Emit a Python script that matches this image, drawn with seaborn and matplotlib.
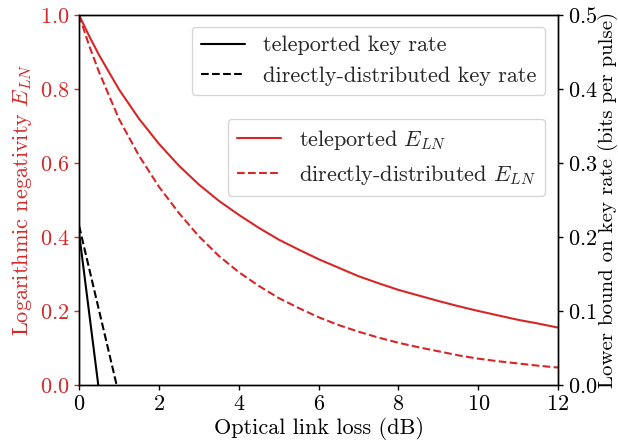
import matplotlib
matplotlib.use("Agg")
import matplotlib.pyplot as plt
import seaborn as sns
import pandas as pd

# ---- data ----
loss_db = [0, 0.25, 0.5, 1, 1.5, 2, 2.5, 3, 3.5, 4, 4.5, 5, 5.5, 6, 6.5, 7, 7.5,
           8, 8.5, 9, 9.5, 10, 10.5, 11, 11.5, 12]
eln_teleported = [1.0, 0.944, 0.892, 0.799, 0.720, 0.652, 0.593, 0.542, 0.498, 0.460,
                  0.425, 0.393, 0.366, 0.340, 0.317, 0.294, 0.275, 0.257, 0.242, 0.227,
                  0.213, 0.200, 0.188, 0.176, 0.166, 0.155]
eln_direct = [1.0, 0.918, 0.846, 0.719, 0.620, 0.536, 0.465, 0.402, 0.349, 0.305,
              0.268, 0.235, 0.208, 0.183, 0.162, 0.144, 0.128, 0.114, 0.102, 0.091,
              0.080, 0.071, 0.064, 0.058, 0.052, 0.047]

key_loss_tele = [0, 0.48]
key_rate_tele = [0.205, 0.0]
key_loss_direct = [0, 0.94]
key_rate_direct = [0.215, 0.0]

RED = "#d62728"
FS = 16

sns.set_theme(style="ticks")
plt.rcParams.update({
    "font.family": ["cmr10", "DejaVu Serif"],
    "mathtext.fontset": "cm",
    "axes.formatter.use_mathtext": True,
    "font.size": FS,
    "axes.labelsize": FS,
    "xtick.labelsize": FS,
    "ytick.labelsize": FS,
    "legend.fontsize": FS,
    "axes.linewidth": 1.0,
    "xtick.major.width": 1.0,
    "ytick.major.width": 1.0,
    "xtick.major.size": 3.5,
    "ytick.major.size": 3.5,
    "axes.edgecolor": "black",
    "xtick.color": "black",
    "ytick.color": "black",
    "axes.labelcolor": "black",
})

df_eln = pd.DataFrame({"loss": loss_db, "tele": eln_teleported, "direct": eln_direct})
df_kt = pd.DataFrame({"loss": key_loss_tele, "rate": key_rate_tele})
df_kd = pd.DataFrame({"loss": key_loss_direct, "rate": key_rate_direct})

fig, ax1 = plt.subplots(figsize=(6.18, 4.45), dpi=100)
fig.subplots_adjust(left=0.128, right=0.903, top=0.966, bottom=0.135)

sns.lineplot(data=df_eln, x="loss", y="tele", ax=ax1, color=RED, lw=1.5,
             label=r"teleported $E_{LN}$", legend=False)
sns.lineplot(data=df_eln, x="loss", y="direct", ax=ax1, color=RED, lw=1.5,
             linestyle="--", label=r"directly-distributed $E_{LN}$", legend=False)
ax1.set_xlim(0, 12)
ax1.set_ylim(0, 1.0)
ax1.set_xlabel("Optical link loss (dB)", labelpad=2)
ax1.set_ylabel(r"Logarithmic negativity $E_{LN}$", color=RED, labelpad=4)
ax1.tick_params(axis="y", colors=RED)
ax1.spines["left"].set_color("black")
ax1.set_xticks([0, 2, 4, 6, 8, 10, 12])
ax1.set_yticks([0, 0.2, 0.4, 0.6, 0.8, 1.0])

ax2 = ax1.twinx()
sns.lineplot(data=df_kt, x="loss", y="rate", ax=ax2, color="black", lw=1.5,
             label="teleported key rate", legend=False)
sns.lineplot(data=df_kd, x="loss", y="rate", ax=ax2, color="black", lw=1.5,
             linestyle="--", label="directly-distributed key rate", legend=False)
ax2.set_ylim(0, 0.5)
ax2.set_xlim(0, 12)
ax2.set_ylabel("Lower bound on key rate (bits per pulse)", labelpad=0, fontsize=15)
ax2.set_yticks([0, 0.1, 0.2, 0.3, 0.4, 0.5])

h1, l1 = ax2.get_legend_handles_labels()
leg1 = ax2.legend(h1, l1, loc="upper right", bbox_to_anchor=(0.973, 0.968), borderaxespad=0)
ax2.add_artist(leg1)
h2, l2 = ax1.get_legend_handles_labels()
ax2.legend(h2, l2, loc="upper right", bbox_to_anchor=(0.973, 0.719), borderaxespad=0)

fig.savefig("out.png", dpi=100)
